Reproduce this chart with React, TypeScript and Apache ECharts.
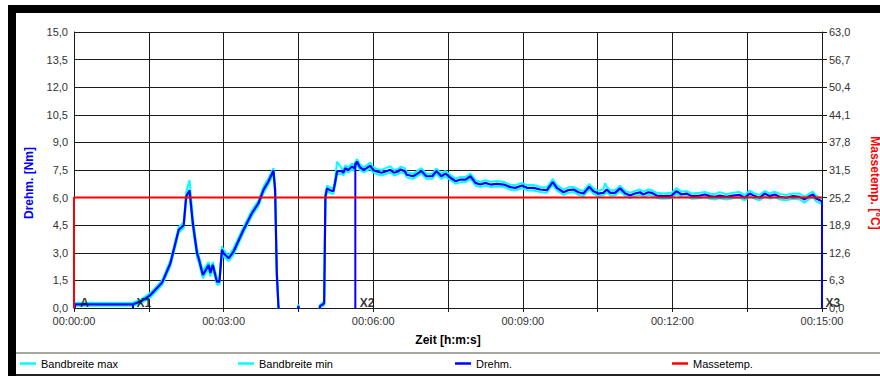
import React, { useEffect, useRef } from 'react';
import * as echarts from 'echarts';

// Drehmoment [Nm] over time [s] (negative = below visible range, clipped)
const drehm: [number, number][] = [
  [0, 0], [1, 0.2], [71, 0.2], [80, 0.35], [92, 0.7], [106, 1.38], [116, 2.43], [126, 4.25], [132, 4.5], [135, 6.06],
  [139, 6.4], [143, 4.6], [148, 2.98], [150, 2.7], [155, 1.8], [159, 2.1], [162, 2.34], [164, 1.9], [167, 2.34], [172, 1.43],
  [175, 1.43], [178, 3.16], [180, 2.98], [186, 2.7], [192, 3.07], [204, 4.25], [214, 5.15], [222, 5.7], [228, 6.42], [234, 6.88],
  [240, 7.47], [242, 6.4], [244, 1.9], [246, 0.07], [247, -0.4], [268.5, -0.4], [270, 0.12], [271.5, -0.4], [294.5, -0.4], [296, 0.1],
  [301, 0.25], [302.5, 6.06], [304.5, 6.5], [308, 6.4], [312, 6.35], [314, 6.78], [316.5, 7.42], [322, 7.45], [324, 7.35], [326.5, 7.6],
  [330, 7.5], [334.5, 7.69], [337, 7.6], [340.5, 7.96], [344, 7.65], [348.5, 7.51], [352, 7.6], [356.5, 7.73], [360, 7.5], [364.5, 7.42],
  [370, 7.35], [375, 7.42], [380.5, 7.51], [385, 7.35], [390, 7.42], [393, 7.53], [398, 7.44], [400.5, 7.24], [408, 7.16], [418, 7.44],
  [424, 7.16], [431, 7.16], [436, 7.44], [442, 7.16], [447, 7.3], [453, 7.08], [459, 6.89], [465, 6.98], [471, 6.98], [477, 7.16],
  [483, 6.8], [489, 6.71], [495, 6.8], [501, 6.71], [509, 6.75], [517, 6.71], [525, 6.57], [531, 6.53], [539, 6.66], [545, 6.53],
  [553, 6.53], [561, 6.44], [569, 6.41], [576, 6.84], [581, 6.53], [589, 6.29], [595, 6.41], [601, 6.44], [607, 6.29], [613, 6.22],
  [620, 6.59], [625, 6.35], [631, 6.22], [637, 6.26], [641, 6.44], [645, 6.26], [651, 6.26], [657, 6.5], [663, 6.24], [669, 6.11],
  [675, 6.22], [681, 6.29], [685, 6.17], [691, 6.29], [695, 6.26], [701, 6.11], [709, 6.08], [719, 6.11], [725, 6.35], [731, 6.17],
  [737, 6.22], [743, 6.08], [753, 6.11], [759, 6.17], [765, 6.08], [771, 6.04], [777, 6.11], [785, 6.04], [793, 6.11], [801, 6.15],
  [807, 5.99], [813, 6.22], [819, 6.08], [825, 5.99], [831, 6.22], [837, 6.08], [843, 6.17], [849, 6.04], [857, 5.99], [865, 6.08],
  [873, 6.04], [879, 5.9], [885, 6.08], [889, 6.17], [893, 5.95], [900, 5.8],
];

const bandMax: [number, number][] = [
  [0, 0.05], [1, 0.28], [71, 0.3], [80, 0.45], [92, 0.82], [106, 1.5], [116, 2.6], [126, 4.4], [132, 4.65], [135, 6.3],
  [139, 6.95], [143, 4.9], [148, 3.2], [150, 2.9], [155, 2.0], [159, 2.3], [162, 2.5], [164, 2.1], [167, 2.5], [172, 1.6],
  [175, 1.6], [178, 3.35], [180, 3.15], [186, 2.85], [192, 3.25], [204, 4.4], [214, 5.3], [222, 5.85], [228, 6.6], [234, 7.05],
  [240, 7.6], [242, 6.6], [244, 2.1], [246, 0.15], [247, -0.4], [268.5, -0.4], [270, 0.2], [271.5, -0.4], [294.5, -0.4], [296, 0.18],
  [301, 0.35], [302.5, 6.2], [304.5, 6.65], [308, 6.55], [312, 6.5], [314, 6.95], [316.5, 7.95], [322, 7.6], [324, 7.5], [326.5, 7.75],
  [330, 7.65], [334.5, 7.85], [337, 7.75], [340.5, 8.1], [344, 7.8], [348.5, 7.65], [352, 7.75], [356.5, 7.9], [360, 7.65], [364.5, 7.55],
  [370, 7.5], [375, 7.6], [380.5, 7.7], [385, 7.5], [390, 7.55], [393, 7.68], [398, 7.6], [400.5, 7.38], [408, 7.3], [418, 7.6],
  [424, 7.3], [431, 7.3], [436, 7.58], [442, 7.3], [447, 7.45], [453, 7.22], [459, 7.03], [465, 7.12], [471, 7.12], [477, 7.3],
  [483, 6.95], [489, 6.85], [495, 6.95], [501, 6.86], [509, 6.9], [517, 6.85], [525, 6.7], [531, 6.68], [539, 6.8], [545, 6.68],
  [553, 6.68], [561, 6.58], [569, 6.56], [576, 7.0], [581, 6.68], [589, 6.44], [595, 6.56], [601, 6.58], [607, 6.44], [613, 6.36],
  [620, 6.74], [625, 6.5], [631, 6.36], [637, 6.45], [639, 6.78], [641, 6.6], [645, 6.4], [651, 6.4], [657, 6.65], [663, 6.38],
  [669, 6.26], [675, 6.36], [681, 6.44], [685, 6.32], [691, 6.44], [695, 6.4], [701, 6.26], [709, 6.22], [719, 6.26], [725, 6.52],
  [731, 6.32], [737, 6.36], [743, 6.22], [753, 6.26], [759, 6.3], [765, 6.22], [771, 6.18], [777, 6.3], [785, 6.18], [793, 6.26],
  [801, 6.3], [807, 6.14], [813, 6.38], [819, 6.22], [825, 6.14], [831, 6.36], [837, 6.22], [843, 6.32], [849, 6.2], [857, 6.14],
  [865, 6.22], [873, 6.22], [879, 6.05], [885, 6.22], [889, 6.32], [893, 6.1], [900, 5.95],
];

const bandMin: [number, number][] = [
  [0, 0], [1, 0.12], [71, 0.12], [80, 0.25], [92, 0.58], [106, 1.25], [116, 2.28], [126, 4.1], [132, 4.35], [135, 5.9],
  [139, 6.2], [143, 4.35], [148, 2.75], [150, 2.5], [155, 1.62], [159, 1.92], [162, 2.15], [164, 1.72], [167, 2.15], [172, 1.28],
  [175, 1.28], [178, 2.98], [180, 2.8], [186, 2.55], [192, 2.9], [204, 4.1], [214, 5.0], [222, 5.55], [228, 6.25], [234, 6.72],
  [240, 7.3], [242, 6.2], [244, 1.7], [246, 0], [247, -0.4], [268.5, -0.4], [270, 0.05], [271.5, -0.4], [294.5, -0.4], [296, 0.02],
  [301, 0.15], [302.5, 5.9], [304.5, 6.35], [308, 6.25], [312, 6.2], [314, 6.6], [316.5, 7.28], [322, 7.3], [324, 7.2], [326.5, 7.45],
  [330, 7.35], [334.5, 7.55], [337, 7.45], [340.5, 7.82], [344, 7.5], [348.5, 7.37], [352, 7.45], [356.5, 7.58], [360, 7.36], [364.5, 7.28],
  [370, 7.2], [375, 7.28], [380.5, 7.36], [385, 7.2], [390, 7.28], [393, 7.38], [398, 7.3], [400.5, 7.1], [408, 7.02], [418, 7.3],
  [424, 7.02], [431, 7.02], [436, 7.3], [442, 7.02], [447, 7.15], [453, 6.94], [459, 6.75], [465, 6.84], [471, 6.84], [477, 7.02],
  [483, 6.66], [489, 6.57], [495, 6.66], [501, 6.57], [509, 6.6], [517, 6.57], [525, 6.43], [531, 6.39], [539, 6.52], [545, 6.39],
  [553, 6.39], [561, 6.3], [569, 6.27], [576, 6.7], [581, 6.39], [589, 6.15], [595, 6.27], [601, 6.3], [607, 6.15], [613, 6.08],
  [620, 6.45], [625, 6.2], [631, 6.08], [637, 6.12], [641, 6.3], [645, 6.12], [651, 6.12], [657, 6.36], [663, 6.1], [669, 5.97],
  [675, 6.08], [681, 6.15], [685, 6.03], [691, 6.15], [695, 6.12], [701, 5.97], [709, 5.94], [719, 5.97], [725, 6.2], [731, 6.03],
  [737, 6.08], [743, 5.94], [753, 5.97], [759, 6.03], [765, 5.94], [771, 5.9], [777, 5.97], [785, 5.9], [793, 5.97], [801, 6.0],
  [807, 5.85], [813, 6.08], [819, 5.94], [825, 5.85], [831, 6.08], [837, 5.94], [843, 6.03], [849, 5.9], [857, 5.85], [865, 5.94],
  [873, 5.9], [879, 5.72], [885, 5.94], [889, 6.02], [893, 5.8], [900, 5.65],
];

// Massetemp. [°C]
const masseTemp: [number, number][] = [[0, 0], [0, 25.2], [900, 25.2]];

// Cursor markers
const markerNames = ['A', 'X1', 'X2', 'X3'];
const markerTimes = [1, 71, 338.5, 900];
const markerValues = [0.2, 0.2, 7.9, 5.8];
const markerLabelDx = [6, 4, 5, 4];

const legendNames = ['Bandbreite max', 'Bandbreite min', 'Drehm.', 'Massetemp.'];

const fmtNum = (v: number) => v.toFixed(1).replace('.', ',');
const pad = (n: number) => (n < 10 ? '0' + n : '' + n);
const fmtTime = (v: number) => {
  if (Math.round(v) % 180 !== 0) return '';
  const s = Math.round(v);
  return pad(Math.floor(s / 3600)) + ':' + pad(Math.floor((s % 3600) / 60)) + ':' + pad(s % 60);
};

export default function App() {
  const ref = useRef<HTMLDivElement>(null);
  useEffect(() => {
    if (!ref.current) return;
    const chart = echarts.init(ref.current, undefined, { renderer: 'svg' });
    const font = 'Arial, "Liberation Sans", sans-serif';
    const markerLines: any[] = [];
    markerTimes.forEach((t, i) => {
      markerLines.push([t, 0], [t, markerValues[i]], '-');
    });
    const legendLeft = [20, 238, 455, 672];
    const option: any = {
      animation: false,
      backgroundColor: '#fff',
      textStyle: { fontFamily: font },
      grid: { left: 74, right: 58, top: 32, bottom: 68, containLabel: false },
      legend: legendNames.map((n, i) => ({
        data: [n],
        left: legendLeft[i],
        top: 358,
        padding: 0,
        icon: 'rect',
        itemWidth: 16,
        itemHeight: 2.5,
        itemGap: 0,
        selectedMode: false,
        textStyle: { fontSize: 11, color: '#000', fontFamily: font },
      })),
      xAxis: {
        type: 'value',
        min: 0,
        max: 900,
        interval: 90,
        axisLine: { show: true, lineStyle: { color: '#1a1a1a', width: 1 } },
        axisTick: { show: true, length: 4, lineStyle: { color: '#1a1a1a' } },
        splitLine: { show: true, lineStyle: { color: '#1a1a1a', width: 1 } },
        axisLabel: {
          formatter: fmtTime,
          fontSize: 11,
          color: '#333',
          margin: 7,
          showMinLabel: true,
          showMaxLabel: true,
          fontFamily: font,
        },
      },
      yAxis: [
        {
          type: 'value',
          min: 0,
          max: 15,
          interval: 1.5,
          axisLine: { show: true, lineStyle: { color: '#1a1a1a', width: 1 } },
          axisTick: { show: false },
          splitLine: { show: true, lineStyle: { color: '#1a1a1a', width: 1 } },
          axisLabel: { formatter: fmtNum, fontSize: 11, color: '#333', margin: 6, fontFamily: font },
        },
        {
          type: 'value',
          min: 0,
          max: 63,
          interval: 6.3,
          position: 'right',
          axisLine: { show: true, lineStyle: { color: '#1a1a1a', width: 1 } },
          axisTick: { show: true, length: 5, lineStyle: { color: '#1a1a1a' } },
          splitLine: { show: false },
          axisLabel: { formatter: fmtNum, fontSize: 11, color: '#333', margin: 7, fontFamily: font },
        },
      ],
      series: [
        {
          name: 'Bandbreite max',
          type: 'line',
          data: bandMax,
          showSymbol: false,
          symbol: 'none',
          color: '#00ffff',
          lineStyle: { color: '#00ffff', width: 2 },
        },
        {
          name: 'Bandbreite min',
          type: 'line',
          data: bandMin,
          showSymbol: false,
          symbol: 'none',
          color: '#00ffff',
          lineStyle: { color: '#00ffff', width: 2 },
        },
        {
          name: 'Drehm.',
          type: 'line',
          data: drehm,
          showSymbol: false,
          symbol: 'none',
          color: '#0000ff',
          lineStyle: { color: '#0000ff', width: 2.2 },
        },
        {
          name: 'Marker',
          type: 'line',
          data: markerLines,
          showSymbol: false,
          symbol: 'none',
          connectNulls: false,
          color: '#0000ff',
          lineStyle: { color: '#0000ff', width: 2 },
        },
        {
          name: 'Massetemp.',
          type: 'line',
          yAxisIndex: 1,
          data: masseTemp,
          showSymbol: false,
          symbol: 'none',
          color: '#ff0000',
          lineStyle: { color: '#ff0000', width: 2 },
        },
        {
          name: 'MarkerLabels',
          type: 'scatter',
          data: markerNames.map((n, i) => ({
            name: n,
            value: [markerTimes[i], 0],
            label: { position: [markerLabelDx[i], -11] },
          })),
          symbol: 'circle',
          symbolSize: 1,
          itemStyle: { color: 'rgba(0,0,0,0)' },
          silent: true,
          z: 5,
          label: {
            show: true,
            formatter: '{b}',
            align: 'left',
            verticalAlign: 'top',
            fontSize: 12,
            fontWeight: 'bold',
            color: '#000',
            fontFamily: font,
          },
        },
      ],
      graphic: [
        { type: 'rect', shape: { x: 8, y: 5, width: 8, height: 371 }, style: { fill: '#000' }, silent: true },
        { type: 'rect', shape: { x: 8, y: 5, width: 872, height: 8 }, style: { fill: '#000' }, silent: true },
        { type: 'rect', shape: { x: 16, y: 374, width: 864, height: 2 }, style: { fill: '#222' }, silent: true },
        { type: 'rect', shape: { x: 16, y: 352, width: 864, height: 2 }, style: { fill: '#a8a8a0' }, silent: true },
        {
          type: 'text',
          x: 29,
          y: 183,
          rotation: Math.PI / 2,
          style: {
            text: 'Drehm. [Nm]',
            fill: '#0000ff',
            font: 'bold 12px ' + font,
            align: 'center',
            verticalAlign: 'middle',
          },
        },
        {
          type: 'text',
          x: 875,
          y: 183,
          rotation: -Math.PI / 2,
          style: {
            text: 'Massetemp. [°C]',
            fill: '#ff0000',
            font: 'bold 12px ' + font,
            align: 'center',
            verticalAlign: 'middle',
          },
        },
        {
          type: 'text',
          x: 448,
          y: 340,
          style: {
            text: 'Zeit [h:m:s]',
            fill: '#000',
            font: 'bold 12px ' + font,
            align: 'center',
            verticalAlign: 'middle',
          },
        },
      ],
    };
    chart.setOption(option);
    return () => chart.dispose();
  }, []);
  return (
    <div
      ref={ref}
      style={{ position: 'absolute', left: 0, top: 0, width: 880, height: 376, background: '#fff' }}
    />
  );
}
